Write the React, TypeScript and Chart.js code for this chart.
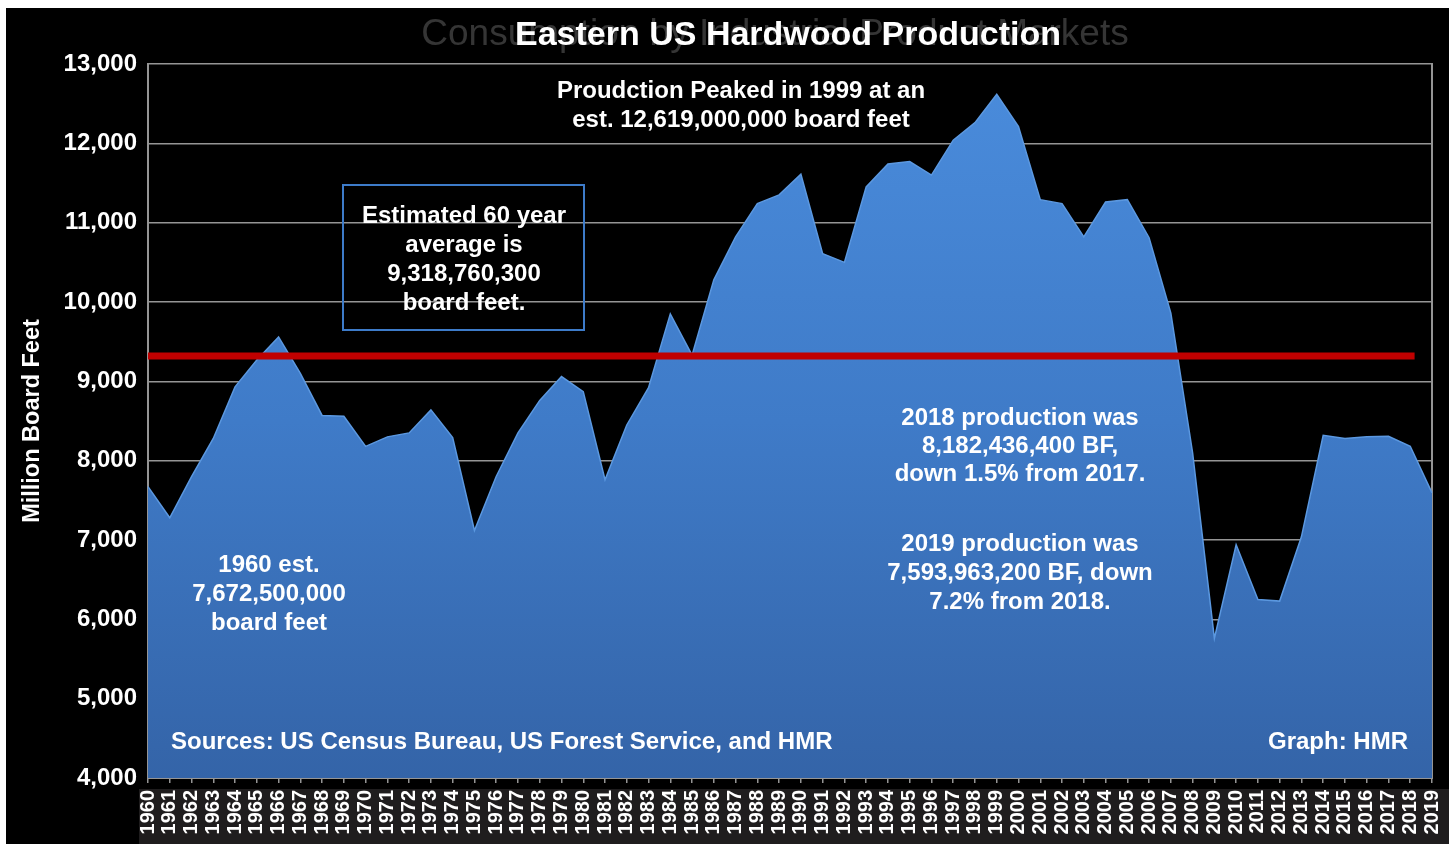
import React, { useEffect, useRef } from "react";
import { Chart, registerables } from "chart.js";

Chart.register(...registerables);

const YEARS = [
  "1960", "1961", "1962", "1963", "1964", "1965", "1966", "1967", "1968", "1969",
  "1970", "1971", "1972", "1973", "1974", "1975", "1976", "1977", "1978", "1979",
  "1980", "1981", "1982", "1983", "1984", "1985", "1986", "1987", "1988", "1989",
  "1990", "1991", "1992", "1993", "1994", "1995", "1996", "1997", "1998", "1999",
  "2000", "2001", "2002", "2003", "2004", "2005", "2006", "2007", "2008", "2009",
  "2010", "2011", "2012", "2013", "2014", "2015", "2016", "2017", "2018", "2019",
];

// Million board feet
const PRODUCTION = [
  7672, 7280, 7800, 8280, 8930, 9270, 9560, 9100, 8570, 8560,
  8180, 8300, 8350, 8640, 8290, 7120, 7800, 8350, 8760, 9060,
  8870, 7760, 8450, 8920, 9850, 9330, 10280, 10820, 11240, 11350,
  11610, 10610, 10500, 11450, 11740, 11770, 11600, 12040, 12260, 12619,
  12210, 11290, 11240, 10820, 11260, 11290, 10810, 9860, 8100, 5760,
  6940, 6250, 6230, 7040, 8320, 8280, 8300, 8307, 8182, 7594,
];

const AVERAGE = 9318.7603;
const AVERAGE_LINE_FROM = 0;
const AVERAGE_LINE_TO = 58.2;

const Y_MIN = 4000;
const Y_MAX = 13000;
const Y_STEP = 1000;

const TITLE = "Eastern US Hardwood Production";
const GHOST_TITLE = "Consumption by Industrial Product Markets";
const Y_TITLE = "Million Board Feet";
const PEAK_NOTE = ["Proudction Peaked in 1999 at an", "est. 12,619,000,000 board feet"];
const AVG_NOTE = ["Estimated 60 year", "average is", "9,318,760,300", "board feet."];
const START_NOTE = ["1960 est.", "7,672,500,000", "board feet"];
const NOTE_2018 = ["2018 production was", "8,182,436,400 BF,", "down 1.5% from 2017."];
const NOTE_2019 = ["2019 production was", "7,593,963,200 BF, down", "7.2% from 2018."];
const SOURCE = "Sources: US Census Bureau, US Forest Service, and HMR";
const CREDIT = "Graph: HMR";

const FONT = '"Liberation Sans", Arial, Helvetica, sans-serif';
const GRID = "#959595";

export default function App() {
  const ref = useRef<HTMLCanvasElement>(null);

  useEffect(() => {
    const canvas = ref.current;
    if (!canvas) return;

    const drawLines = (c: CanvasRenderingContext2D, arr: string[], x: number, y: number, lh: number, align: CanvasTextAlign) => {
      c.textAlign = align;
      arr.forEach((t, i) => c.fillText(t, x, y + i * lh));
    };

    const decor = {
      id: "decor",
      beforeDraw(chart: any) {
        const c = chart.ctx as CanvasRenderingContext2D;
        const a = chart.chartArea;
        c.save();
        c.fillStyle = "#000000";
        c.fillRect(0, 0, chart.width, chart.height);
        c.fillStyle = "#1f1d1e";
        c.fillRect(a.left - 9, a.bottom + 11, chart.width - (a.left - 9), chart.height - a.bottom - 11);
        c.restore();
      },
      afterDraw(chart: any) {
        const c = chart.ctx as CanvasRenderingContext2D;
        c.save();
        c.textBaseline = "middle";
        // ghost title
        c.fillStyle = "#353535";
        c.font = `37px ${FONT}`;
        c.textAlign = "center";
        c.fillText(GHOST_TITLE, 769, 27);
        // title
        c.fillStyle = "#ffffff";
        c.font = `bold 34px ${FONT}`;
        c.fillText(TITLE, 782, 28);

        c.font = `bold 24px ${FONT}`;
        drawLines(c, PEAK_NOTE, 735, 83, 29, "center");

        // box
        c.strokeStyle = "#3d7bc9";
        c.lineWidth = 2;
        c.strokeRect(337, 177, 241, 145);
        drawLines(c, AVG_NOTE, 458, 208, 29, "center");

        drawLines(c, START_NOTE, 263, 557, 29, "center");
        drawLines(c, NOTE_2018, 1014, 410, 28, "center");
        drawLines(c, NOTE_2019, 1014, 536, 29, "center");
        drawLines(c, [SOURCE], 165, 734, 29, "left");
        drawLines(c, [CREDIT], 1402, 734, 29, "right");
        c.restore();
      },
    };

    const chart = new Chart(canvas, {
      type: "line",
      data: {
        labels: YEARS,
        datasets: [
          {
            label: "Average",
            data: [
              { x: AVERAGE_LINE_FROM, y: AVERAGE },
              { x: AVERAGE_LINE_TO, y: AVERAGE },
            ] as any,
            parsing: false,
            borderColor: "#c00000",
            borderWidth: 7,
            pointRadius: 0,
            fill: false,
            order: 0,
          } as any,
          {
            label: "Production",
            data: PRODUCTION,
            borderColor: "#5b98e0",
            borderWidth: 1.5,
            tension: 0,
            pointRadius: 0,
            fill: "start",
            backgroundColor: (ctx: any) => {
              const ch = ctx.chart;
              const a = ch.chartArea;
              if (!a) return "#3d78c4";
              const g = ch.ctx.createLinearGradient(0, a.top, 0, a.bottom);
              g.addColorStop(0, "#4a8cdc");
              g.addColorStop(0.5, "#3f7bc8");
              g.addColorStop(1, "#3464a8");
              return g;
            },
            order: 1,
          },
        ],
      },
      options: {
        responsive: false,
        animation: false,
        devicePixelRatio: 1,
        layout: { padding: { top: 56, right: 17, left: 0, bottom: 0 } },
        plugins: {
          legend: { display: false },
          tooltip: { enabled: false },
          title: { display: false },
        },
        scales: {
          x: {
            type: "category",
            afterFit: (s: any) => {
              s.height = 66;
              s.paddingLeft = 0;
              s.paddingRight = 0;
            },
            grid: {
              drawOnChartArea: false,
              drawTicks: true,
              tickLength: 5,
              color: GRID,
              lineWidth: 1.5,
            },
            border: { color: GRID, width: 2 },
            ticks: {
              autoSkip: false,
              minRotation: 90,
              maxRotation: 90,
              padding: 7,
              color: "#ffffff",
              font: { family: FONT, size: 20, weight: "bold" },
            },
          },
          y: {
            min: Y_MIN,
            max: Y_MAX,
            afterFit: (s: any) => {
              s.width = 142;
              s.paddingTop = 0;
              s.paddingBottom = 0;
            },
            grid: { color: GRID, lineWidth: 1.5, drawTicks: false },
            border: { color: GRID, width: 2 },
            ticks: {
              stepSize: Y_STEP,
              padding: 11,
              color: "#ffffff",
              font: { family: FONT, size: 24, weight: "bold" },
              callback: (v: any) => Number(v).toLocaleString("en-US"),
            },
            title: {
              display: true,
              text: Y_TITLE,
              color: "#ffffff",
              font: { family: FONT, size: 23.5, weight: "bold" },
              padding: { top: 12, bottom: 0 },
            },
          },
          y2: {
            position: "right",
            min: Y_MIN,
            max: Y_MAX,
            afterFit: (s: any) => {
              s.width = 0;
              s.paddingTop = 0;
              s.paddingBottom = 0;
            },
            grid: { drawOnChartArea: false, drawTicks: false },
            border: { color: GRID, width: 2 },
            ticks: { display: false },
          },
        },
      } as any,
      plugins: [decor],
    });

    return () => chart.destroy();
  }, []);

  return (
    <div style={{ position: "fixed", left: 6, top: 8, width: 1443, height: 836 }}>
      <canvas ref={ref} width={1443} height={836} style={{ display: "block" }} />
    </div>
  );
}
